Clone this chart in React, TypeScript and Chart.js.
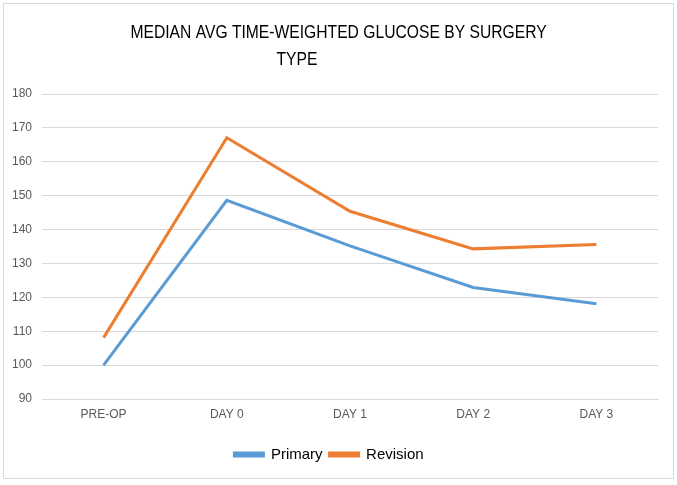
import React, { useEffect, useRef } from "react";
import { Chart, registerables } from "chart.js";

Chart.register(...registerables);

const categories = ["PRE-OP", "DAY 0", "DAY 1", "DAY 2", "DAY 3"];
const primaryValues = [100, 148.6, 135.2, 122.9, 118.1];
const revisionValues = [108.1, 167.1, 145.4, 134.3, 135.6];
const yTicks = [90, 100, 110, 120, 130, 140, 150, 160, 170, 180];
const titleLines = ["MEDIAN AVG TIME-WEIGHTED GLUCOSE BY SURGERY", "TYPE"];

const FONT = "'Liberation Sans', Arial, sans-serif";

const titlePlugin = {
  id: "customTitle",
  afterDraw(chart: any) {
    const ctx = chart.ctx;
    ctx.save();
    ctx.fillStyle = "#000000";
    ctx.font = `18px ${FONT}`;
    ctx.textBaseline = "middle";
    ctx.textAlign = "center";
    const sx = 0.87;
    ctx.save();
    ctx.translate(338.5, 33);
    ctx.scale(sx, 1);
    ctx.fillText(titleLines[0], 0, 0);
    ctx.restore();
    ctx.save();
    ctx.translate(297, 60);
    ctx.scale(sx, 1);
    ctx.fillText(titleLines[1], 0, 0);
    ctx.restore();
    ctx.restore();
  },
};

export default function App() {
  const canvasRef = useRef<HTMLCanvasElement | null>(null);

  useEffect(() => {
    const canvas = canvasRef.current;
    if (!canvas) return;
    const chart = new Chart(canvas, {
      type: "line",
      data: {
        labels: categories,
        datasets: [
          {
            label: "Primary",
            data: primaryValues,
            borderColor: "#5B9BD5",
            backgroundColor: "#5B9BD5",
            borderWidth: 3,
            pointRadius: 0,
            tension: 0,
          },
          {
            label: "Revision",
            data: revisionValues,
            borderColor: "#ED7D31",
            backgroundColor: "#ED7D31",
            borderWidth: 3,
            pointRadius: 0,
            tension: 0,
          },
        ],
      },
      options: {
        animation: false,
        responsive: false,
        maintainAspectRatio: false,
        layout: { padding: { top: 94, right: 19, left: 0, bottom: 13 } },
        plugins: {
          title: { display: false },
          tooltip: { enabled: false },
          legend: {
            display: true,
            position: "bottom",
            labels: {
              boxWidth: 29,
              boxHeight: 3,
              padding: 7,
              color: "#000000",
              font: { family: FONT, size: 15 },
            },
          },
        },
        scales: {
          x: {
            offset: true,
            grid: { display: false, drawTicks: false },
            border: { display: true, color: "#d9d9d9", width: 1 },
            ticks: {
              color: "#595959",
              font: { family: FONT, size: 12 },
              padding: 8,
              maxRotation: 0,
            },
            afterFit(scale: any) {
              scale.height = 41;
            },
          },
          y: {
            min: 90,
            max: 180,
            afterBuildTicks(scale: any) {
              scale.ticks = yTicks.map((v) => ({ value: v }));
            },
            grid: { color: "#d9d9d9", lineWidth: 1, drawTicks: false },
            border: { display: false },
            ticks: {
              color: "#595959",
              font: { family: FONT, size: 12 },
              padding: 10,
            },
            afterFit(scale: any) {
              scale.width = 42;
            },
          },
        },
      },
      plugins: [titlePlugin],
    });
    return () => chart.destroy();
  }, []);

  return (
    <div style={{ position: "absolute", left: 0, top: 0, width: 677, height: 485, background: "#fff" }}>
      <div
        style={{
          position: "absolute",
          left: 3,
          top: 3,
          width: 669,
          height: 474,
          border: "1px solid #d9d9d9",
        }}
      />
      <canvas ref={canvasRef} width={677} height={485} style={{ position: "absolute", left: 0, top: 0 }} />
    </div>
  );
}
